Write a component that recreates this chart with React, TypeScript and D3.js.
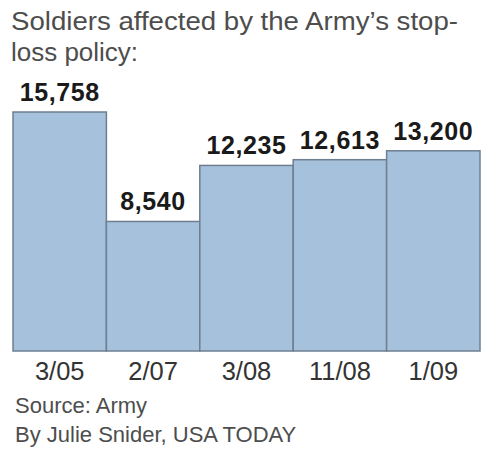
import { useEffect, useRef } from "react";
import * as d3 from "d3";

const title = ["Soldiers affected by the Army\u2019s stop-", "loss policy:"];
const dates = ["3/05", "2/07", "3/08", "11/08", "1/09"];
const soldiers = [15758, 8540, 12235, 12613, 13200];
const credits = ["Source: Army", "By Julie Snider, USA TODAY"];

const W = 483;
const H = 454;

export default function App() {
  const svgRef = useRef<SVGSVGElement>(null);

  useEffect(() => {
    if (!svgRef.current) return;
    const svg = d3.select(svgRef.current);
    svg.selectAll("*").remove();

    const font = "'Liberation Sans', Arial, Helvetica, sans-serif";

    // Scales: bars touch each other, no padding
    const x = d3.scaleBand<string>().domain(dates).range([13, 480]).padding(0);
    const y = d3.scaleLinear().domain([0, 15758]).range([351, 112]);

    svg.append("rect").attr("width", W).attr("height", H).attr("fill", "#ffffff");

    // Title
    svg
      .append("g")
      .selectAll("text")
      .data(title)
      .join("text")
      .attr("x", 11)
      .attr("y", (_, i) => 30 + i * 31)
      .attr("font-family", font)
      .attr("font-size", 25)
      .attr("fill", "#4d4d4d")
      .attr("textLength", (_, i) => (i === 0 ? 447 : 127))
      .attr("lengthAdjust", "spacingAndGlyphs")
      .text((d) => d);

    // Bars
    svg
      .append("g")
      .selectAll("rect")
      .data(soldiers)
      .join("rect")
      .attr("x", (_, i) => x(dates[i])!)
      .attr("y", (d) => y(d))
      .attr("width", x.bandwidth())
      .attr("height", (d) => y(0) - y(d))
      .attr("fill", "#a6c1dc")
      .attr("stroke", "#6d7f90")
      .attr("stroke-width", 1.5);

    // Value labels
    svg
      .append("g")
      .selectAll("text")
      .data(soldiers)
      .join("text")
      .attr("x", (_, i) => x(dates[i])! + x.bandwidth() / 2)
      .attr("y", (d) => y(d) - 11)
      .attr("text-anchor", "middle")
      .attr("font-family", font)
      .attr("font-weight", "bold")
      .attr("font-size", 25)
      .attr("letter-spacing", 0.6)
      .attr("fill", "#1a1a1a")
      .text((d) => d3.format(",")(d));

    // Category labels
    svg
      .append("g")
      .selectAll("text")
      .data(dates)
      .join("text")
      .attr("x", (d) => x(d)! + x.bandwidth() / 2)
      .attr("y", 380)
      .attr("text-anchor", "middle")
      .attr("font-family", font)
      .attr("font-size", 25.5)
      .attr("fill", "#333333")
      .text((d) => d);

    // Source / credit
    svg
      .append("g")
      .selectAll("text")
      .data(credits)
      .join("text")
      .attr("x", 15)
      .attr("y", (_, i) => 413 + i * 29)
      .attr("font-family", font)
      .attr("font-size", 22)
      .attr("fill", "#4d4d4d")
      .text((d) => d);
  }, []);

  return (
    <div style={{ position: "absolute", left: 0, top: 0 }}>
      <svg ref={svgRef} width={W} height={H} viewBox={`0 0 ${W} ${H}`} style={{ display: "block" }} />
    </div>
  );
}
